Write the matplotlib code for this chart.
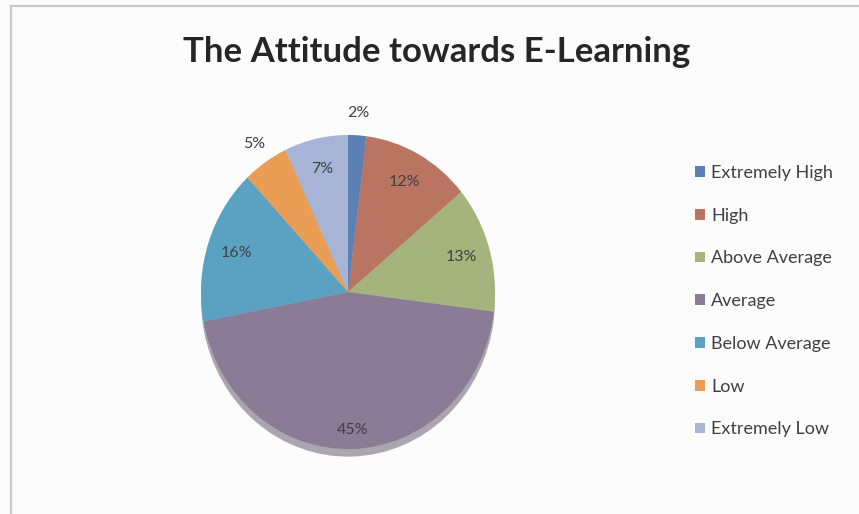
import matplotlib.pyplot as plt
from matplotlib.lines import Line2D
import numpy as np

plt.rcParams['font.family'] = ['Lato', 'DejaVu Sans']

# --------- DATA ---------
categories = ['Extremely High', 'High', 'Above Average', 'Average',
              'Below Average', 'Low', 'Extremely Low']
shares = [2, 12, 13, 45, 16, 5, 7]
colors = ['#5A80B4', '#BA7562', '#A4B47C', '#8A7B96', '#5BA2C2', '#E99D55', '#A7B3D7']
title = 'The Attitude towards E-Learning'

W, H = 859, 514
fig = plt.figure(figsize=(W / 100, H / 100), dpi=100, facecolor='#FCFCFC')

# pie is a little taller than wide in the picture, so axes aspect is left free
cx, cy = 348, 292       # centre in px from top-left
rx, ry = 147, 157
half_w, half_h = 175, 190
ax = fig.add_axes([(cx - half_w) / W, (H - cy - half_h) / H, 2 * half_w / W, 2 * half_h / H])

wedges, texts, autotexts = ax.pie(
    shares, colors=colors, startangle=90, counterclock=False,
    autopct='%d%%', pctdistance=0.8,
    wedgeprops=dict(linewidth=0),
    shadow=dict(ox=0, oy=-0.035, shade=0.35),
    textprops=dict(fontsize=11.5, color='#404040'))
ax.set_aspect('auto')
ax.set_xlim(-half_w / rx, half_w / rx)
ax.set_ylim(-half_h / ry, half_h / ry)

# move the small slices' labels outside, and the big one a bit lower
cum = np.cumsum([0] + shares[:-1])
for i, t in enumerate(autotexts):
    ang = np.deg2rad(90 - 3.6 * (cum[i] + shares[i] / 2))
    r = None
    if shares[i] <= 5:
        r = 1.14
    elif shares[i] == 45:
        r = 0.88
    if r is not None:
        t.set_position((r * np.cos(ang), r * np.sin(ang)))

fig.text(437 / W, 1 - 52 / H, title, ha='center', va='center',
         fontsize=25, fontweight='bold', color='#262626')

fig.legend(wedges, categories, loc='upper left', bbox_to_anchor=(695 / W, 1 - 165 / H),
           frameon=False, fontsize=13, labelcolor='#404040',
           handlelength=0.55, handleheight=0.55, handletextpad=0.35,
           labelspacing=1.48, borderaxespad=0, borderpad=0)

# thin frame on the top and left, as in the cropped screenshot
fig.add_artist(Line2D([11 / W, 1], [1 - 6 / H, 1 - 6 / H], color='#C8C8C8', lw=1.6))
fig.add_artist(Line2D([11 / W, 11 / W], [0, 1 - 6 / H], color='#C8C8C8', lw=1.6))

fig.savefig('out.png', dpi=100, facecolor=fig.get_facecolor())
